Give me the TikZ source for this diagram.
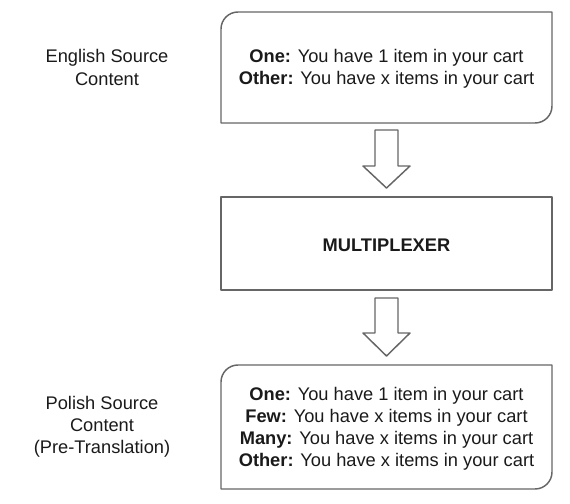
\documentclass[tikz,border=0pt]{standalone}
\usepackage{fontspec}
\setmainfont{Liberation Sans}
\definecolor{boxgray}{HTML}{666666}
\definecolor{txtgray}{HTML}{1A1A1A}
\begin{document}
\begin{tikzpicture}[x=0.75pt,y=-0.75pt,
    box/.style={draw=boxgray,line width=1.1pt,line join=round},
    txt/.style={text=txtgray,align=center,inner sep=0pt,font=\fontsize{13.7}{16.6}\selectfont}]

    \useasboundingbox (0,0) rectangle (570,503);

    % Kasten mit zwei runden Ecken (oben links, unten rechts)
    \foreach \t/\b in {12/123,365/489} {
        \draw[box] (221,\b) -- (221,\t+17) arc[start angle=180,end angle=270,radius=17]
            -- (552,\t) -- (552,\b-17) arc[start angle=0,end angle=90,radius=17] -- cycle;
    }

    % Multiplexer
    \draw[box] (221,197) rectangle (552,290);

    % Blockpfeile
    \foreach \t/\m/\p in {130/166/188,298/333/356} {
        \draw[box] (375,\t) -- (398,\t) -- (398,\m) -- (410,\m) -- (386.5,\p)
            -- (363,\m) -- (375,\m) -- cycle;
    }

    % Texte
    \node[txt] (engl) at (107,67.5) {English Source\\Content};
    \node[txt] (enbox) at (386.5,69) {\textbf{One:} You have 1 item in your cart\\
        \textbf{Other:} You have x items in your cart};
    \node[txt] (mux) at (386.5,245) {\textbf{MULTIPLEXER}};
    \node[txt] (pol) at (102,427) {Polish Source\\Content\\(Pre-Translation)};
    \node[txt] (plbox) at (386.5,429) {\textbf{One:} You have 1 item in your cart\\
        \textbf{Few:} You have x items in your cart\\
        \textbf{Many:} You have x items in your cart\\
        \textbf{Other:} You have x items in your cart};

\end{tikzpicture}
\end{document}
